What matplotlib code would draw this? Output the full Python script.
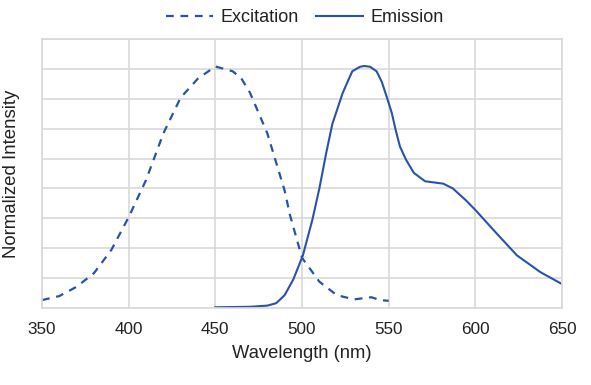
import matplotlib.pyplot as plt

plt.rcParams['font.family'] = ['Liberation Sans', 'DejaVu Sans']

# excitation spectrum (dashed)
exc_nm = [350, 360, 370, 380, 390, 400, 410, 420, 430, 440, 450, 460, 465, 470,
          480, 490, 493, 500, 510, 520, 530, 540, 545, 550]
exc_val = [0.033, 0.05, 0.089, 0.146, 0.243, 0.38, 0.535, 0.73, 0.88, 0.96, 1.01, 0.99,
           0.96, 0.90, 0.73, 0.49, 0.39, 0.21, 0.11, 0.054, 0.036, 0.045, 0.033, 0.03]

# emission spectrum (solid)
em_nm = [450, 470, 480, 485, 487, 490, 495, 500.5, 506, 510, 514, 517.5, 523.5,
         526.7, 529, 533.5, 536, 539.2, 543, 546, 549, 551.8, 554, 556.5, 560, 564.5,
         571, 581.5, 587, 594.6, 600, 612.5, 624, 637.5, 650]
em_val = [0.003, 0.005, 0.01, 0.02, 0.033, 0.054, 0.12, 0.22, 0.37, 0.50, 0.65,
          0.77, 0.90, 0.953, 0.99, 1.009, 1.012, 1.009, 0.99, 0.946, 0.88, 0.815, 0.745,
          0.675, 0.62, 0.565, 0.53, 0.52, 0.50, 0.45, 0.41, 0.31, 0.22, 0.15, 0.10]

blue = '#2a52a8'
grid = '#d9d9d9'
txt = '#222222'

fig = plt.figure(figsize=(5.91, 3.85), dpi=100)
ax = fig.add_axes([0.0711, 0.2, 0.8799, 0.6987])

ax.plot(exc_nm, exc_val, color=blue, lw=1.6, ls=(0, (3.5, 3)), label='Excitation')
ax.plot(em_nm, em_val, color=blue, lw=1.5, label='Emission')

ax.set_xlim(350, 650)
ax.set_ylim(0, 1.125)
ax.set_xticks([350, 400, 450, 500, 550, 600, 650])
ax.set_yticks([i * 0.125 for i in range(10)])
ax.set_yticklabels([])
ax.tick_params(axis='both', length=0, labelsize=12.3, colors=txt, pad=10)
ax.grid(True, color=grid, lw=1.2)
ax.set_axisbelow(True)
for s in ax.spines.values():
    s.set_color(grid)
    s.set_linewidth(1.2)

ax.set_xlabel('Wavelength (nm)', fontsize=13.2, color=txt, labelpad=6)
ax.set_ylabel('Normalized Intensity', fontsize=13.4, color=txt, labelpad=6)

fig.legend(loc='center', bbox_to_anchor=(0.516, 0.955), ncol=2, frameon=False,
           fontsize=13, handlelength=2.6, columnspacing=1.0, handletextpad=0.4,
           labelcolor=txt)

fig.savefig('out.png', dpi=100)
